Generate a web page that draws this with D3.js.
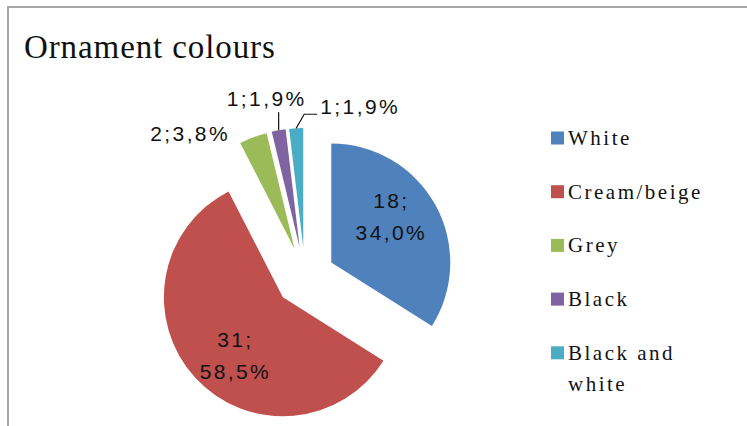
<!DOCTYPE html>
<html>
<head>
<meta charset="utf-8">
<script src="https://cdn.jsdelivr.net/npm/d3@7"></script>
<style>
  html, body { margin: 0; padding: 0; background: #fff; }
  svg { display: block; }
</style>
</head>
<body>
<svg id="chart" width="747" height="426"></svg>
<script>
// Ornament colour counts
const categories = ["White", "Cream/beige", "Grey", "Black", "Black and white"];
const counts = [18, 31, 2, 1, 1];
const colors = ["#4F81BD", "#C0504D", "#9BBB59", "#8064A2", "#4BACC6"];
const title = "Ornament colours";

const W = 747, H = 426;
const svg = d3.select("#chart");

// Chart frame (runs off the right and bottom edges)
svg.append("rect")
  .attr("x", 8).attr("y", 7)
  .attr("width", W + 20).attr("height", H + 20)
  .attr("fill", "#fff")
  .attr("stroke", "#a6a6a6").attr("stroke-width", 2);

svg.append("text")
  .attr("x", 24).attr("y", 58)
  .attr("font-family", "'Liberation Serif', 'Times New Roman', serif")
  .attr("font-size", 33)
  .attr("letter-spacing", 0.9)
  .attr("fill", "#111")
  .text(title);

// Pie layout
const cx = 305, cy = 277, R = 119, explode = 30;
const total = d3.sum(counts);
const pie = d3.pie().sort(null).value(d => d.value).startAngle(0);
const arcs = pie(categories.map((c, i) => ({ name: c, value: counts[i], color: colors[i] })));
const arc = d3.arc().innerRadius(0).outerRadius(R);

const fmtPct = v => d3.format(".1f")(v).replace(".", ",") + "%";
const dir = a => [Math.sin(a), -Math.cos(a)];

const g = svg.append("g").attr("transform", `translate(${cx},${cy})`);

arcs.forEach(a => {
  const mid = (a.startAngle + a.endAngle) / 2;
  const [ux, uy] = dir(mid);
  a.ox = ux * explode; a.oy = uy * explode;
  a.mid = mid;
});

g.selectAll("path.slice").data(arcs).join("path")
  .attr("class", "slice")
  .attr("transform", d => `translate(${d.ox},${d.oy})`)
  .attr("d", arc)
  .attr("fill", d => d.data.color);

const labelFont = "'Liberation Sans', Arial, sans-serif";
const labelSize = 21;

// Labels inside the two large slices
const inside = arcs.filter(d => (d.endAngle - d.startAngle) > 0.5);
inside.forEach(d => {
  const a = d.mid - 9 * Math.PI / 180;
  const [ux, uy] = dir(a);
  const lx = d.ox + ux * R * 0.64, ly = d.oy + uy * R * 0.63;
  const t = g.append("text")
    .attr("text-anchor", "middle")
    .attr("font-family", labelFont)
    .attr("font-size", labelSize)
    .attr("letter-spacing", 2.4)
    .attr("fill", "#111");
  t.append("tspan").attr("x", lx).attr("y", ly - 9).text(d.data.value + ";");
  t.append("tspan").attr("x", lx).attr("y", ly + 23).text(fmtPct(d.data.value / total * 100));
});

// Labels outside the small slices, placed relative to the slice's outer edge
const outsideOffsets = { "Grey": [-63, -3, false], "Black": [-12, -31, "v"], "Black and white": [64, -21, "elbow"] };
arcs.filter(d => (d.endAngle - d.startAngle) <= 0.5).forEach(d => {
  const [ux, uy] = dir(d.mid);
  const px = d.ox + ux * R, py = d.oy + uy * R;
  const [dx, dy, leader] = outsideOffsets[d.data.name];
  const lx = px + dx, ly = py + dy;
  g.append("text")
    .attr("x", lx).attr("y", ly + 7)
    .attr("text-anchor", "middle")
    .attr("font-family", labelFont)
    .attr("font-size", labelSize)
    .attr("letter-spacing", 2.4)
    .attr("fill", "#111")
    .text(d.data.value + ";" + fmtPct(d.data.value / total * 100));
  if (leader === "v") {
    g.append("path")
      .attr("d", `M${px},${py} L${px},${ly + 13}`)
      .attr("stroke", "#111").attr("stroke-width", 1.2).attr("fill", "none");
  } else if (leader === "elbow") {
    const ex = lx - 43;
    g.append("path")
      .attr("d", `M${px},${py} L${px + 8},${ly + 7} L${ex},${ly + 7}`)
      .attr("stroke", "#111").attr("stroke-width", 1.2).attr("fill", "none");
  }
});

// Legend
const legendFont = "'Liberation Serif', 'Times New Roman', serif";
const lg = svg.append("g").attr("transform", "translate(551,138)");
const step = 53.7;
categories.forEach((c, i) => {
  const row = lg.append("g").attr("transform", `translate(0,${i * step})`);
  row.append("rect")
    .attr("x", 0).attr("y", -6.5)
    .attr("width", 13).attr("height", 13)
    .attr("fill", colors[i]);
  const words = c === "Black and white" ? ["Black and", "white"] : [c];
  const t = row.append("text")
    .attr("font-family", legendFont)
    .attr("font-size", 21)
    .attr("letter-spacing", 2.5)
    .attr("fill", "#111");
  words.forEach((w, k) => {
    t.append("tspan").attr("x", 17).attr("y", 7 + k * 31).text(w);
  });
});
</script>
</body>
</html>
